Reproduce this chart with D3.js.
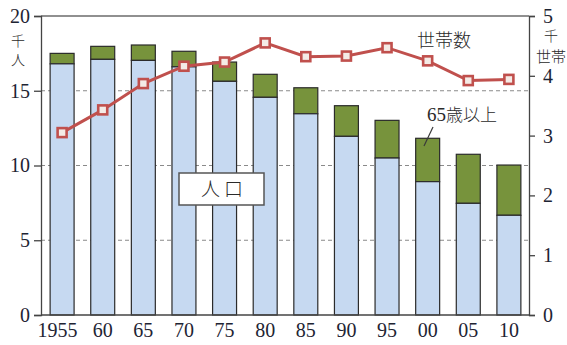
<!DOCTYPE html>
<html>
<head>
<meta charset="utf-8">
<script src="https://cdn.jsdelivr.net/npm/d3@7"></script>
<style>
  html, body { margin: 0; padding: 0; background: #fff; }
  svg { display: block; }
</style>
</head>
<body>
<svg id="chart" width="567" height="345"></svg>
<script>
// Census years and tick labels
const years = ["1955", "1960", "1965", "1970", "1975", "1980", "1985", "1990", "1995", "2000", "2005", "2010"];
const yearLabels = ["1955", "60", "65", "70", "75", "80", "85", "90", "95", "00", "05", "10"];
// Population (thousand people): under 65 and total
const popUnder65 = [16.8, 17.1, 17.03, 16.6, 15.63, 14.56, 13.46, 11.95, 10.5, 8.92, 7.47, 6.67];
const popTotal   = [17.5, 17.97, 18.06, 17.64, 16.92, 16.1, 15.2, 14.0, 13.02, 11.82, 10.75, 10.03];
// Households (thousand)
const households = [3.05, 3.43, 3.87, 4.16, 4.23, 4.55, 4.32, 4.33, 4.47, 4.25, 3.92, 3.94];
// Axis ticks
const leftTicks = [0, 5, 10, 15, 20];
const rightTicks = [0, 1, 2, 3, 4, 5];

(function () {
const svg = d3.select("#chart");
const pL = 41, pR = 529, pT = 16, pB = 315;
const textColor = "#1e2433";
const serif = "'Liberation Serif', 'Times New Roman', serif";
const cjk = "'Noto Sans CJK JP', sans-serif";
const cjkWeight = 300;

const x = d3.scaleBand().domain(years).range([42, pR]).paddingInner(0.41).paddingOuter(0.2);
const yL = d3.scaleLinear().domain([0, 20]).range([pB, pT]);
const yR = d3.scaleLinear().domain([0, 5]).range([pB, pT]);

// dashed gridlines
svg.append("g").selectAll("line")
  .data(leftTicks.filter(d => d > 0 && d < 20))
  .join("line")
  .attr("x1", pL).attr("x2", pR)
  .attr("y1", d => yL(d)).attr("y2", d => yL(d))
  .attr("stroke", "#8a8a8a").attr("stroke-width", 1)
  .attr("stroke-dasharray", "4,3");

// top border
svg.append("line")
  .attr("x1", pL).attr("x2", pR).attr("y1", pT).attr("y2", pT)
  .attr("stroke", "#6b6b6b").attr("stroke-width", 1.3);

// stacked bars
const bars = svg.append("g");
bars.selectAll("rect.old")
  .data(years)
  .join("rect")
  .attr("class", "old")
  .attr("x", d => x(d))
  .attr("width", x.bandwidth())
  .attr("y", (d, i) => yL(popTotal[i]))
  .attr("height", (d, i) => yL(popUnder65[i]) - yL(popTotal[i]))
  .attr("fill", "#77933c")
  .attr("stroke", "#2b2b2b").attr("stroke-width", 1.2);
bars.selectAll("rect.young")
  .data(years)
  .join("rect")
  .attr("class", "young")
  .attr("x", d => x(d))
  .attr("width", x.bandwidth())
  .attr("y", (d, i) => yL(popUnder65[i]))
  .attr("height", (d, i) => yL(0) - yL(popUnder65[i]))
  .attr("fill", "#c6d9f1")
  .attr("stroke", "#2b2b2b").attr("stroke-width", 1.2);

// left axis
const axL = svg.append("g")
  .attr("transform", `translate(${pL},0)`)
  .call(d3.axisLeft(yL).tickValues(leftTicks).tickSize(7).tickPadding(4).tickFormat(d3.format("d")));
axL.select(".domain").attr("stroke", "#444").attr("stroke-width", 1.3);
axL.selectAll(".tick line").attr("stroke", "#444").attr("stroke-width", 1.3);
axL.selectAll(".tick text").attr("font-family", serif).attr("font-size", 20).attr("fill", textColor);

// right axis
const axR = svg.append("g")
  .attr("transform", `translate(${pR},0)`)
  .call(d3.axisRight(yR).tickValues(rightTicks).tickSize(6).tickPadding(8).tickFormat(d3.format("d")));
axR.select(".domain").attr("stroke", "#444").attr("stroke-width", 1.3);
axR.selectAll(".tick line").attr("stroke", "#444").attr("stroke-width", 1.3);
axR.selectAll(".tick text").attr("font-family", serif).attr("font-size", 20).attr("fill", textColor);

// bottom axis
const axB = svg.append("g")
  .attr("transform", `translate(0,${pB})`)
  .call(d3.axisBottom(x).tickSize(0).tickPadding(8).tickFormat((d, i) => yearLabels[i]));
axB.select(".domain").attr("d", `M${pL},0H${pR}`).attr("stroke", "#444").attr("stroke-width", 1.3);
axB.selectAll(".tick text")
  .attr("font-family", serif).attr("font-size", 20).attr("fill", textColor)
  .attr("dx", (d, i) => i === 0 ? -4.5 : 0);

// households line
const line = d3.line()
  .x((d, i) => x(years[i]) + x.bandwidth() / 2)
  .y(d => yR(d));
svg.append("path")
  .datum(households)
  .attr("d", line)
  .attr("fill", "none")
  .attr("stroke", "#c0504d").attr("stroke-width", 3);
svg.append("g").selectAll("rect")
  .data(households)
  .join("rect")
  .attr("x", (d, i) => x(years[i]) + x.bandwidth() / 2 - 4.5)
  .attr("y", d => yR(d) - 4.5)
  .attr("width", 9).attr("height", 9)
  .attr("fill", "#f4ebe6")
  .attr("stroke", "#c0504d").attr("stroke-width", 2.6);

// unit labels
function cjkText(xp, yp, size, str, anchor) {
  return svg.append("text").attr("x", xp).attr("y", yp).attr("text-anchor", anchor || "start")
    .attr("font-family", cjk).attr("font-weight", cjkWeight).attr("font-size", size)
    .attr("fill", "#2a2a2a").text(str);
}
cjkText(18, 46, 14, "千", "middle");
cjkText(18, 65, 14, "人", "middle");
cjkText(551, 41, 14, "千", "middle");
cjkText(536, 62, 15, "世帯");

// series annotations
cjkText(417, 47, 18, "世帯数");

const lbl = svg.append("text").attr("x", 427).attr("y", 121).attr("fill", "#2a2a2a");
lbl.append("tspan").attr("font-family", serif).attr("font-size", 19).text("65");
lbl.append("tspan").attr("font-family", cjk).attr("font-weight", cjkWeight).attr("font-size", 17).text("歳以上");
svg.append("line").attr("x1", 433).attr("y1", 127).attr("x2", 424).attr("y2", 146)
  .attr("stroke", "#3a3a3a").attr("stroke-width", 1.2);

svg.append("rect").attr("x", 179).attr("y", 173).attr("width", 85).attr("height", 32)
  .attr("fill", "#fff").attr("stroke", "#555").attr("stroke-width", 1.5);
cjkText(222, 196, 19, "人 口", "middle").attr("xml:space", "preserve");
})();
</script>
</body>
</html>
